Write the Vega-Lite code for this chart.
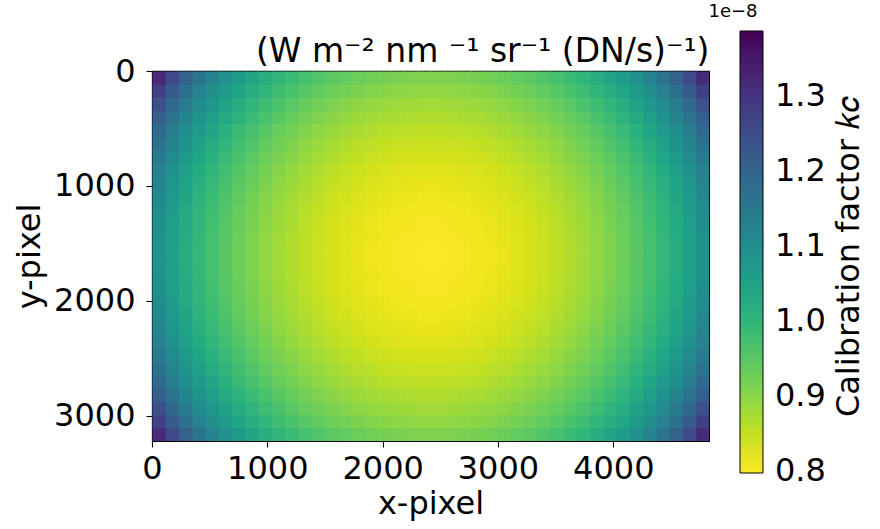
{
"$schema": "https://vega.github.io/schema/vega-lite/v6.json",
"width": 557, "height": 370,
"autosize": {"type": "none"},
"padding": {"left": 152, "top": 71, "right": 171, "bottom": 88},
"background": "white",
"config": {
  "font": "DejaVu Sans",
  "view": {"stroke": "black", "strokeWidth": 1.1},
  "axis": {"labelFontSize": 32, "titleFontSize": 32, "labelFont": "DejaVu Sans", "titleFont": "DejaVu Sans", "titleFontWeight": "normal", "labelColor": "black", "titleColor": "black", "tickColor": "black", "tickSize": 6, "tickWidth": 1.1, "grid": false, "domain": false, "labelFlush": false}
},
"resolve": {"axis": {"x": "independent", "y": "independent"}},
"layer": [
{
"data": {"values": [
{"x":0,"y":0,"k":1.318},{"x":115,"y":0,"k":1.256},{"x":230,"y":0,"k":1.204},{"x":345,"y":0,"k":1.161},{"x":460,"y":0,"k":1.123},{"x":575,"y":0,"k":1.091},{"x":690,"y":0,"k":1.064},{"x":805,"y":0,"k":1.040},{"x":920,"y":0,"k":1.018},{"x":1035,"y":0,"k":1.000},{"x":1150,"y":0,"k":0.984},{"x":1265,"y":0,"k":0.970},{"x":1380,"y":0,"k":0.958},{"x":1495,"y":0,"k":0.947},{"x":1610,"y":0,"k":0.938},{"x":1725,"y":0,"k":0.930},{"x":1840,"y":0,"k":0.923},{"x":1955,"y":0,"k":0.918},{"x":2070,"y":0,"k":0.915},{"x":2185,"y":0,"k":0.912},{"x":2300,"y":0,"k":0.911},{"x":2415,"y":0,"k":0.911},{"x":2530,"y":0,"k":0.912},{"x":2645,"y":0,"k":0.915},{"x":2760,"y":0,"k":0.918},{"x":2875,"y":0,"k":0.923},{"x":2990,"y":0,"k":0.930},{"x":3105,"y":0,"k":0.938},{"x":3220,"y":0,"k":0.947},{"x":3335,"y":0,"k":0.958},{"x":3450,"y":0,"k":0.970},{"x":3565,"y":0,"k":0.984},{"x":3680,"y":0,"k":1.000},{"x":3795,"y":0,"k":1.018},{"x":3910,"y":0,"k":1.040},{"x":4025,"y":0,"k":1.064},{"x":4140,"y":0,"k":1.091},{"x":4255,"y":0,"k":1.123},{"x":4370,"y":0,"k":1.161},{"x":4485,"y":0,"k":1.204},{"x":4600,"y":0,"k":1.256},{"x":4715,"y":0,"k":1.318},
{"x":0,"y":115,"k":1.277},{"x":115,"y":115,"k":1.220},{"x":230,"y":115,"k":1.173},{"x":345,"y":115,"k":1.132},{"x":460,"y":115,"k":1.097},{"x":575,"y":115,"k":1.067},{"x":690,"y":115,"k":1.041},{"x":805,"y":115,"k":1.018},{"x":920,"y":115,"k":0.999},{"x":1035,"y":115,"k":0.982},{"x":1150,"y":115,"k":0.966},{"x":1265,"y":115,"k":0.952},{"x":1380,"y":115,"k":0.941},{"x":1495,"y":115,"k":0.930},{"x":1610,"y":115,"k":0.921},{"x":1725,"y":115,"k":0.914},{"x":1840,"y":115,"k":0.907},{"x":1955,"y":115,"k":0.902},{"x":2070,"y":115,"k":0.898},{"x":2185,"y":115,"k":0.896},{"x":2300,"y":115,"k":0.895},{"x":2415,"y":115,"k":0.895},{"x":2530,"y":115,"k":0.896},{"x":2645,"y":115,"k":0.898},{"x":2760,"y":115,"k":0.902},{"x":2875,"y":115,"k":0.907},{"x":2990,"y":115,"k":0.914},{"x":3105,"y":115,"k":0.921},{"x":3220,"y":115,"k":0.930},{"x":3335,"y":115,"k":0.941},{"x":3450,"y":115,"k":0.952},{"x":3565,"y":115,"k":0.966},{"x":3680,"y":115,"k":0.982},{"x":3795,"y":115,"k":0.999},{"x":3910,"y":115,"k":1.018},{"x":4025,"y":115,"k":1.041},{"x":4140,"y":115,"k":1.067},{"x":4255,"y":115,"k":1.097},{"x":4370,"y":115,"k":1.132},{"x":4485,"y":115,"k":1.173},{"x":4600,"y":115,"k":1.220},{"x":4715,"y":115,"k":1.277},
{"x":0,"y":230,"k":1.242},{"x":115,"y":230,"k":1.190},{"x":230,"y":230,"k":1.145},{"x":345,"y":230,"k":1.107},{"x":460,"y":230,"k":1.075},{"x":575,"y":230,"k":1.047},{"x":690,"y":230,"k":1.022},{"x":805,"y":230,"k":1.000},{"x":920,"y":230,"k":0.982},{"x":1035,"y":230,"k":0.965},{"x":1150,"y":230,"k":0.949},{"x":1265,"y":230,"k":0.936},{"x":1380,"y":230,"k":0.925},{"x":1495,"y":230,"k":0.915},{"x":1610,"y":230,"k":0.906},{"x":1725,"y":230,"k":0.898},{"x":1840,"y":230,"k":0.892},{"x":1955,"y":230,"k":0.887},{"x":2070,"y":230,"k":0.884},{"x":2185,"y":230,"k":0.881},{"x":2300,"y":230,"k":0.880},{"x":2415,"y":230,"k":0.880},{"x":2530,"y":230,"k":0.881},{"x":2645,"y":230,"k":0.884},{"x":2760,"y":230,"k":0.887},{"x":2875,"y":230,"k":0.892},{"x":2990,"y":230,"k":0.898},{"x":3105,"y":230,"k":0.906},{"x":3220,"y":230,"k":0.915},{"x":3335,"y":230,"k":0.925},{"x":3450,"y":230,"k":0.936},{"x":3565,"y":230,"k":0.949},{"x":3680,"y":230,"k":0.965},{"x":3795,"y":230,"k":0.982},{"x":3910,"y":230,"k":1.000},{"x":4025,"y":230,"k":1.022},{"x":4140,"y":230,"k":1.047},{"x":4255,"y":230,"k":1.075},{"x":4370,"y":230,"k":1.107},{"x":4485,"y":230,"k":1.145},{"x":4600,"y":230,"k":1.190},{"x":4715,"y":230,"k":1.242},
{"x":0,"y":345,"k":1.212},{"x":115,"y":345,"k":1.163},{"x":230,"y":345,"k":1.121},{"x":345,"y":345,"k":1.086},{"x":460,"y":345,"k":1.055},{"x":575,"y":345,"k":1.028},{"x":690,"y":345,"k":1.005},{"x":805,"y":345,"k":0.984},{"x":920,"y":345,"k":0.966},{"x":1035,"y":345,"k":0.949},{"x":1150,"y":345,"k":0.935},{"x":1265,"y":345,"k":0.922},{"x":1380,"y":345,"k":0.911},{"x":1495,"y":345,"k":0.901},{"x":1610,"y":345,"k":0.892},{"x":1725,"y":345,"k":0.885},{"x":1840,"y":345,"k":0.879},{"x":1955,"y":345,"k":0.874},{"x":2070,"y":345,"k":0.871},{"x":2185,"y":345,"k":0.868},{"x":2300,"y":345,"k":0.867},{"x":2415,"y":345,"k":0.867},{"x":2530,"y":345,"k":0.868},{"x":2645,"y":345,"k":0.871},{"x":2760,"y":345,"k":0.874},{"x":2875,"y":345,"k":0.879},{"x":2990,"y":345,"k":0.885},{"x":3105,"y":345,"k":0.892},{"x":3220,"y":345,"k":0.901},{"x":3335,"y":345,"k":0.911},{"x":3450,"y":345,"k":0.922},{"x":3565,"y":345,"k":0.935},{"x":3680,"y":345,"k":0.949},{"x":3795,"y":345,"k":0.966},{"x":3910,"y":345,"k":0.984},{"x":4025,"y":345,"k":1.005},{"x":4140,"y":345,"k":1.028},{"x":4255,"y":345,"k":1.055},{"x":4370,"y":345,"k":1.086},{"x":4485,"y":345,"k":1.121},{"x":4600,"y":345,"k":1.163},{"x":4715,"y":345,"k":1.212},
{"x":0,"y":460,"k":1.187},{"x":115,"y":460,"k":1.140},{"x":230,"y":460,"k":1.101},{"x":345,"y":460,"k":1.067},{"x":460,"y":460,"k":1.038},{"x":575,"y":460,"k":1.012},{"x":690,"y":460,"k":0.990},{"x":805,"y":460,"k":0.970},{"x":920,"y":460,"k":0.952},{"x":1035,"y":460,"k":0.936},{"x":1150,"y":460,"k":0.922},{"x":1265,"y":460,"k":0.910},{"x":1380,"y":460,"k":0.898},{"x":1495,"y":460,"k":0.889},{"x":1610,"y":460,"k":0.880},{"x":1725,"y":460,"k":0.873},{"x":1840,"y":460,"k":0.867},{"x":1955,"y":460,"k":0.862},{"x":2070,"y":460,"k":0.858},{"x":2185,"y":460,"k":0.856},{"x":2300,"y":460,"k":0.854},{"x":2415,"y":460,"k":0.854},{"x":2530,"y":460,"k":0.856},{"x":2645,"y":460,"k":0.858},{"x":2760,"y":460,"k":0.862},{"x":2875,"y":460,"k":0.867},{"x":2990,"y":460,"k":0.873},{"x":3105,"y":460,"k":0.880},{"x":3220,"y":460,"k":0.889},{"x":3335,"y":460,"k":0.898},{"x":3450,"y":460,"k":0.910},{"x":3565,"y":460,"k":0.922},{"x":3680,"y":460,"k":0.936},{"x":3795,"y":460,"k":0.952},{"x":3910,"y":460,"k":0.970},{"x":4025,"y":460,"k":0.990},{"x":4140,"y":460,"k":1.012},{"x":4255,"y":460,"k":1.038},{"x":4370,"y":460,"k":1.067},{"x":4485,"y":460,"k":1.101},{"x":4600,"y":460,"k":1.140},{"x":4715,"y":460,"k":1.187},
{"x":0,"y":575,"k":1.165},{"x":115,"y":575,"k":1.121},{"x":230,"y":575,"k":1.084},{"x":345,"y":575,"k":1.051},{"x":460,"y":575,"k":1.023},{"x":575,"y":575,"k":0.999},{"x":690,"y":575,"k":0.977},{"x":805,"y":575,"k":0.958},{"x":920,"y":575,"k":0.940},{"x":1035,"y":575,"k":0.925},{"x":1150,"y":575,"k":0.911},{"x":1265,"y":575,"k":0.898},{"x":1380,"y":575,"k":0.887},{"x":1495,"y":575,"k":0.878},{"x":1610,"y":575,"k":0.869},{"x":1725,"y":575,"k":0.862},{"x":1840,"y":575,"k":0.856},{"x":1955,"y":575,"k":0.851},{"x":2070,"y":575,"k":0.847},{"x":2185,"y":575,"k":0.845},{"x":2300,"y":575,"k":0.844},{"x":2415,"y":575,"k":0.844},{"x":2530,"y":575,"k":0.845},{"x":2645,"y":575,"k":0.847},{"x":2760,"y":575,"k":0.851},{"x":2875,"y":575,"k":0.856},{"x":2990,"y":575,"k":0.862},{"x":3105,"y":575,"k":0.869},{"x":3220,"y":575,"k":0.878},{"x":3335,"y":575,"k":0.887},{"x":3450,"y":575,"k":0.898},{"x":3565,"y":575,"k":0.911},{"x":3680,"y":575,"k":0.925},{"x":3795,"y":575,"k":0.940},{"x":3910,"y":575,"k":0.958},{"x":4025,"y":575,"k":0.977},{"x":4140,"y":575,"k":0.999},{"x":4255,"y":575,"k":1.023},{"x":4370,"y":575,"k":1.051},{"x":4485,"y":575,"k":1.084},{"x":4600,"y":575,"k":1.121},{"x":4715,"y":575,"k":1.165},
{"x":0,"y":690,"k":1.147},{"x":115,"y":690,"k":1.105},{"x":230,"y":690,"k":1.069},{"x":345,"y":690,"k":1.038},{"x":460,"y":690,"k":1.011},{"x":575,"y":690,"k":0.987},{"x":690,"y":690,"k":0.966},{"x":805,"y":690,"k":0.947},{"x":920,"y":690,"k":0.930},{"x":1035,"y":690,"k":0.915},{"x":1150,"y":690,"k":0.901},{"x":1265,"y":690,"k":0.889},{"x":1380,"y":690,"k":0.878},{"x":1495,"y":690,"k":0.868},{"x":1610,"y":690,"k":0.859},{"x":1725,"y":690,"k":0.852},{"x":1840,"y":690,"k":0.846},{"x":1955,"y":690,"k":0.841},{"x":2070,"y":690,"k":0.838},{"x":2185,"y":690,"k":0.835},{"x":2300,"y":690,"k":0.834},{"x":2415,"y":690,"k":0.834},{"x":2530,"y":690,"k":0.835},{"x":2645,"y":690,"k":0.838},{"x":2760,"y":690,"k":0.841},{"x":2875,"y":690,"k":0.846},{"x":2990,"y":690,"k":0.852},{"x":3105,"y":690,"k":0.859},{"x":3220,"y":690,"k":0.868},{"x":3335,"y":690,"k":0.878},{"x":3450,"y":690,"k":0.889},{"x":3565,"y":690,"k":0.901},{"x":3680,"y":690,"k":0.915},{"x":3795,"y":690,"k":0.930},{"x":3910,"y":690,"k":0.947},{"x":4025,"y":690,"k":0.966},{"x":4140,"y":690,"k":0.987},{"x":4255,"y":690,"k":1.011},{"x":4370,"y":690,"k":1.038},{"x":4485,"y":690,"k":1.069},{"x":4600,"y":690,"k":1.105},{"x":4715,"y":690,"k":1.147},
{"x":0,"y":805,"k":1.132},{"x":115,"y":805,"k":1.091},{"x":230,"y":805,"k":1.057},{"x":345,"y":805,"k":1.026},{"x":460,"y":805,"k":1.000},{"x":575,"y":805,"k":0.977},{"x":690,"y":805,"k":0.956},{"x":805,"y":805,"k":0.938},{"x":920,"y":805,"k":0.921},{"x":1035,"y":805,"k":0.906},{"x":1150,"y":805,"k":0.892},{"x":1265,"y":805,"k":0.880},{"x":1380,"y":805,"k":0.869},{"x":1495,"y":805,"k":0.859},{"x":1610,"y":805,"k":0.851},{"x":1725,"y":805,"k":0.844},{"x":1840,"y":805,"k":0.838},{"x":1955,"y":805,"k":0.833},{"x":2070,"y":805,"k":0.829},{"x":2185,"y":805,"k":0.827},{"x":2300,"y":805,"k":0.826},{"x":2415,"y":805,"k":0.826},{"x":2530,"y":805,"k":0.827},{"x":2645,"y":805,"k":0.829},{"x":2760,"y":805,"k":0.833},{"x":2875,"y":805,"k":0.838},{"x":2990,"y":805,"k":0.844},{"x":3105,"y":805,"k":0.851},{"x":3220,"y":805,"k":0.859},{"x":3335,"y":805,"k":0.869},{"x":3450,"y":805,"k":0.880},{"x":3565,"y":805,"k":0.892},{"x":3680,"y":805,"k":0.906},{"x":3795,"y":805,"k":0.921},{"x":3910,"y":805,"k":0.938},{"x":4025,"y":805,"k":0.956},{"x":4140,"y":805,"k":0.977},{"x":4255,"y":805,"k":1.000},{"x":4370,"y":805,"k":1.026},{"x":4485,"y":805,"k":1.057},{"x":4600,"y":805,"k":1.091},{"x":4715,"y":805,"k":1.132},
{"x":0,"y":920,"k":1.119},{"x":115,"y":920,"k":1.080},{"x":230,"y":920,"k":1.047},{"x":345,"y":920,"k":1.017},{"x":460,"y":920,"k":0.991},{"x":575,"y":920,"k":0.969},{"x":690,"y":920,"k":0.948},{"x":805,"y":920,"k":0.930},{"x":920,"y":920,"k":0.914},{"x":1035,"y":920,"k":0.898},{"x":1150,"y":920,"k":0.885},{"x":1265,"y":920,"k":0.873},{"x":1380,"y":920,"k":0.862},{"x":1495,"y":920,"k":0.852},{"x":1610,"y":920,"k":0.844},{"x":1725,"y":920,"k":0.836},{"x":1840,"y":920,"k":0.830},{"x":1955,"y":920,"k":0.826},{"x":2070,"y":920,"k":0.822},{"x":2185,"y":920,"k":0.820},{"x":2300,"y":920,"k":0.818},{"x":2415,"y":920,"k":0.818},{"x":2530,"y":920,"k":0.820},{"x":2645,"y":920,"k":0.822},{"x":2760,"y":920,"k":0.826},{"x":2875,"y":920,"k":0.830},{"x":2990,"y":920,"k":0.836},{"x":3105,"y":920,"k":0.844},{"x":3220,"y":920,"k":0.852},{"x":3335,"y":920,"k":0.862},{"x":3450,"y":920,"k":0.873},{"x":3565,"y":920,"k":0.885},{"x":3680,"y":920,"k":0.898},{"x":3795,"y":920,"k":0.914},{"x":3910,"y":920,"k":0.930},{"x":4025,"y":920,"k":0.948},{"x":4140,"y":920,"k":0.969},{"x":4255,"y":920,"k":0.991},{"x":4370,"y":920,"k":1.017},{"x":4485,"y":920,"k":1.047},{"x":4600,"y":920,"k":1.080},{"x":4715,"y":920,"k":1.119},
{"x":0,"y":1035,"k":1.109},{"x":115,"y":1035,"k":1.071},{"x":230,"y":1035,"k":1.038},{"x":345,"y":1035,"k":1.009},{"x":460,"y":1035,"k":0.984},{"x":575,"y":1035,"k":0.962},{"x":690,"y":1035,"k":0.942},{"x":805,"y":1035,"k":0.923},{"x":920,"y":1035,"k":0.907},{"x":1035,"y":1035,"k":0.892},{"x":1150,"y":1035,"k":0.879},{"x":1265,"y":1035,"k":0.867},{"x":1380,"y":1035,"k":0.856},{"x":1495,"y":1035,"k":0.846},{"x":1610,"y":1035,"k":0.838},{"x":1725,"y":1035,"k":0.830},{"x":1840,"y":1035,"k":0.824},{"x":1955,"y":1035,"k":0.820},{"x":2070,"y":1035,"k":0.816},{"x":2185,"y":1035,"k":0.814},{"x":2300,"y":1035,"k":0.812},{"x":2415,"y":1035,"k":0.812},{"x":2530,"y":1035,"k":0.814},{"x":2645,"y":1035,"k":0.816},{"x":2760,"y":1035,"k":0.820},{"x":2875,"y":1035,"k":0.824},{"x":2990,"y":1035,"k":0.830},{"x":3105,"y":1035,"k":0.838},{"x":3220,"y":1035,"k":0.846},{"x":3335,"y":1035,"k":0.856},{"x":3450,"y":1035,"k":0.867},{"x":3565,"y":1035,"k":0.879},{"x":3680,"y":1035,"k":0.892},{"x":3795,"y":1035,"k":0.907},{"x":3910,"y":1035,"k":0.923},{"x":4025,"y":1035,"k":0.942},{"x":4140,"y":1035,"k":0.962},{"x":4255,"y":1035,"k":0.984},{"x":4370,"y":1035,"k":1.009},{"x":4485,"y":1035,"k":1.038},{"x":4600,"y":1035,"k":1.071},{"x":4715,"y":1035,"k":1.109},
{"x":0,"y":1150,"k":1.101},{"x":115,"y":1150,"k":1.064},{"x":230,"y":1150,"k":1.031},{"x":345,"y":1150,"k":1.003},{"x":460,"y":1150,"k":0.979},{"x":575,"y":1150,"k":0.956},{"x":690,"y":1150,"k":0.936},{"x":805,"y":1150,"k":0.918},{"x":920,"y":1150,"k":0.902},{"x":1035,"y":1150,"k":0.887},{"x":1150,"y":1150,"k":0.874},{"x":1265,"y":1150,"k":0.862},{"x":1380,"y":1150,"k":0.851},{"x":1495,"y":1150,"k":0.841},{"x":1610,"y":1150,"k":0.833},{"x":1725,"y":1150,"k":0.826},{"x":1840,"y":1150,"k":0.820},{"x":1955,"y":1150,"k":0.815},{"x":2070,"y":1150,"k":0.811},{"x":2185,"y":1150,"k":0.809},{"x":2300,"y":1150,"k":0.808},{"x":2415,"y":1150,"k":0.808},{"x":2530,"y":1150,"k":0.809},{"x":2645,"y":1150,"k":0.811},{"x":2760,"y":1150,"k":0.815},{"x":2875,"y":1150,"k":0.820},{"x":2990,"y":1150,"k":0.826},{"x":3105,"y":1150,"k":0.833},{"x":3220,"y":1150,"k":0.841},{"x":3335,"y":1150,"k":0.851},{"x":3450,"y":1150,"k":0.862},{"x":3565,"y":1150,"k":0.874},{"x":3680,"y":1150,"k":0.887},{"x":3795,"y":1150,"k":0.902},{"x":3910,"y":1150,"k":0.918},{"x":4025,"y":1150,"k":0.936},{"x":4140,"y":1150,"k":0.956},{"x":4255,"y":1150,"k":0.979},{"x":4370,"y":1150,"k":1.003},{"x":4485,"y":1150,"k":1.031},{"x":4600,"y":1150,"k":1.064},{"x":4715,"y":1150,"k":1.101},
{"x":0,"y":1265,"k":1.095},{"x":115,"y":1265,"k":1.058},{"x":230,"y":1265,"k":1.026},{"x":345,"y":1265,"k":0.999},{"x":460,"y":1265,"k":0.975},{"x":575,"y":1265,"k":0.952},{"x":690,"y":1265,"k":0.933},{"x":805,"y":1265,"k":0.915},{"x":920,"y":1265,"k":0.898},{"x":1035,"y":1265,"k":0.884},{"x":1150,"y":1265,"k":0.871},{"x":1265,"y":1265,"k":0.858},{"x":1380,"y":1265,"k":0.847},{"x":1495,"y":1265,"k":0.838},{"x":1610,"y":1265,"k":0.829},{"x":1725,"y":1265,"k":0.822},{"x":1840,"y":1265,"k":0.816},{"x":1955,"y":1265,"k":0.811},{"x":2070,"y":1265,"k":0.808},{"x":2185,"y":1265,"k":0.805},{"x":2300,"y":1265,"k":0.804},{"x":2415,"y":1265,"k":0.804},{"x":2530,"y":1265,"k":0.805},{"x":2645,"y":1265,"k":0.808},{"x":2760,"y":1265,"k":0.811},{"x":2875,"y":1265,"k":0.816},{"x":2990,"y":1265,"k":0.822},{"x":3105,"y":1265,"k":0.829},{"x":3220,"y":1265,"k":0.838},{"x":3335,"y":1265,"k":0.847},{"x":3450,"y":1265,"k":0.858},{"x":3565,"y":1265,"k":0.871},{"x":3680,"y":1265,"k":0.884},{"x":3795,"y":1265,"k":0.898},{"x":3910,"y":1265,"k":0.915},{"x":4025,"y":1265,"k":0.933},{"x":4140,"y":1265,"k":0.952},{"x":4255,"y":1265,"k":0.975},{"x":4370,"y":1265,"k":0.999},{"x":4485,"y":1265,"k":1.026},{"x":4600,"y":1265,"k":1.058},{"x":4715,"y":1265,"k":1.095},
{"x":0,"y":1380,"k":1.091},{"x":115,"y":1380,"k":1.055},{"x":230,"y":1380,"k":1.024},{"x":345,"y":1380,"k":0.996},{"x":460,"y":1380,"k":0.971},{"x":575,"y":1380,"k":0.950},{"x":690,"y":1380,"k":0.930},{"x":805,"y":1380,"k":0.912},{"x":920,"y":1380,"k":0.896},{"x":1035,"y":1380,"k":0.881},{"x":1150,"y":1380,"k":0.868},{"x":1265,"y":1380,"k":0.856},{"x":1380,"y":1380,"k":0.845},{"x":1495,"y":1380,"k":0.835},{"x":1610,"y":1380,"k":0.827},{"x":1725,"y":1380,"k":0.820},{"x":1840,"y":1380,"k":0.814},{"x":1955,"y":1380,"k":0.809},{"x":2070,"y":1380,"k":0.805},{"x":2185,"y":1380,"k":0.803},{"x":2300,"y":1380,"k":0.802},{"x":2415,"y":1380,"k":0.802},{"x":2530,"y":1380,"k":0.803},{"x":2645,"y":1380,"k":0.805},{"x":2760,"y":1380,"k":0.809},{"x":2875,"y":1380,"k":0.814},{"x":2990,"y":1380,"k":0.820},{"x":3105,"y":1380,"k":0.827},{"x":3220,"y":1380,"k":0.835},{"x":3335,"y":1380,"k":0.845},{"x":3450,"y":1380,"k":0.856},{"x":3565,"y":1380,"k":0.868},{"x":3680,"y":1380,"k":0.881},{"x":3795,"y":1380,"k":0.896},{"x":3910,"y":1380,"k":0.912},{"x":4025,"y":1380,"k":0.930},{"x":4140,"y":1380,"k":0.950},{"x":4255,"y":1380,"k":0.971},{"x":4370,"y":1380,"k":0.996},{"x":4485,"y":1380,"k":1.024},{"x":4600,"y":1380,"k":1.055},{"x":4715,"y":1380,"k":1.091},
{"x":0,"y":1495,"k":1.090},{"x":115,"y":1495,"k":1.053},{"x":230,"y":1495,"k":1.022},{"x":345,"y":1495,"k":0.994},{"x":460,"y":1495,"k":0.970},{"x":575,"y":1495,"k":0.948},{"x":690,"y":1495,"k":0.929},{"x":805,"y":1495,"k":0.911},{"x":920,"y":1495,"k":0.895},{"x":1035,"y":1495,"k":0.880},{"x":1150,"y":1495,"k":0.867},{"x":1265,"y":1495,"k":0.854},{"x":1380,"y":1495,"k":0.844},{"x":1495,"y":1495,"k":0.834},{"x":1610,"y":1495,"k":0.826},{"x":1725,"y":1495,"k":0.818},{"x":1840,"y":1495,"k":0.812},{"x":1955,"y":1495,"k":0.808},{"x":2070,"y":1495,"k":0.804},{"x":2185,"y":1495,"k":0.802},{"x":2300,"y":1495,"k":0.800},{"x":2415,"y":1495,"k":0.800},{"x":2530,"y":1495,"k":0.802},{"x":2645,"y":1495,"k":0.804},{"x":2760,"y":1495,"k":0.808},{"x":2875,"y":1495,"k":0.812},{"x":2990,"y":1495,"k":0.818},{"x":3105,"y":1495,"k":0.826},{"x":3220,"y":1495,"k":0.834},{"x":3335,"y":1495,"k":0.844},{"x":3450,"y":1495,"k":0.854},{"x":3565,"y":1495,"k":0.867},{"x":3680,"y":1495,"k":0.880},{"x":3795,"y":1495,"k":0.895},{"x":3910,"y":1495,"k":0.911},{"x":4025,"y":1495,"k":0.929},{"x":4140,"y":1495,"k":0.948},{"x":4255,"y":1495,"k":0.970},{"x":4370,"y":1495,"k":0.994},{"x":4485,"y":1495,"k":1.022},{"x":4600,"y":1495,"k":1.053},{"x":4715,"y":1495,"k":1.090},
{"x":0,"y":1610,"k":1.090},{"x":115,"y":1610,"k":1.053},{"x":230,"y":1610,"k":1.022},{"x":345,"y":1610,"k":0.994},{"x":460,"y":1610,"k":0.970},{"x":575,"y":1610,"k":0.948},{"x":690,"y":1610,"k":0.929},{"x":805,"y":1610,"k":0.911},{"x":920,"y":1610,"k":0.895},{"x":1035,"y":1610,"k":0.880},{"x":1150,"y":1610,"k":0.867},{"x":1265,"y":1610,"k":0.854},{"x":1380,"y":1610,"k":0.844},{"x":1495,"y":1610,"k":0.834},{"x":1610,"y":1610,"k":0.826},{"x":1725,"y":1610,"k":0.818},{"x":1840,"y":1610,"k":0.812},{"x":1955,"y":1610,"k":0.808},{"x":2070,"y":1610,"k":0.804},{"x":2185,"y":1610,"k":0.802},{"x":2300,"y":1610,"k":0.800},{"x":2415,"y":1610,"k":0.800},{"x":2530,"y":1610,"k":0.802},{"x":2645,"y":1610,"k":0.804},{"x":2760,"y":1610,"k":0.808},{"x":2875,"y":1610,"k":0.812},{"x":2990,"y":1610,"k":0.818},{"x":3105,"y":1610,"k":0.826},{"x":3220,"y":1610,"k":0.834},{"x":3335,"y":1610,"k":0.844},{"x":3450,"y":1610,"k":0.854},{"x":3565,"y":1610,"k":0.867},{"x":3680,"y":1610,"k":0.880},{"x":3795,"y":1610,"k":0.895},{"x":3910,"y":1610,"k":0.911},{"x":4025,"y":1610,"k":0.929},{"x":4140,"y":1610,"k":0.948},{"x":4255,"y":1610,"k":0.970},{"x":4370,"y":1610,"k":0.994},{"x":4485,"y":1610,"k":1.022},{"x":4600,"y":1610,"k":1.053},{"x":4715,"y":1610,"k":1.090},
{"x":0,"y":1725,"k":1.091},{"x":115,"y":1725,"k":1.055},{"x":230,"y":1725,"k":1.024},{"x":345,"y":1725,"k":0.996},{"x":460,"y":1725,"k":0.971},{"x":575,"y":1725,"k":0.950},{"x":690,"y":1725,"k":0.930},{"x":805,"y":1725,"k":0.912},{"x":920,"y":1725,"k":0.896},{"x":1035,"y":1725,"k":0.881},{"x":1150,"y":1725,"k":0.868},{"x":1265,"y":1725,"k":0.856},{"x":1380,"y":1725,"k":0.845},{"x":1495,"y":1725,"k":0.835},{"x":1610,"y":1725,"k":0.827},{"x":1725,"y":1725,"k":0.820},{"x":1840,"y":1725,"k":0.814},{"x":1955,"y":1725,"k":0.809},{"x":2070,"y":1725,"k":0.805},{"x":2185,"y":1725,"k":0.803},{"x":2300,"y":1725,"k":0.802},{"x":2415,"y":1725,"k":0.802},{"x":2530,"y":1725,"k":0.803},{"x":2645,"y":1725,"k":0.805},{"x":2760,"y":1725,"k":0.809},{"x":2875,"y":1725,"k":0.814},{"x":2990,"y":1725,"k":0.820},{"x":3105,"y":1725,"k":0.827},{"x":3220,"y":1725,"k":0.835},{"x":3335,"y":1725,"k":0.845},{"x":3450,"y":1725,"k":0.856},{"x":3565,"y":1725,"k":0.868},{"x":3680,"y":1725,"k":0.881},{"x":3795,"y":1725,"k":0.896},{"x":3910,"y":1725,"k":0.912},{"x":4025,"y":1725,"k":0.930},{"x":4140,"y":1725,"k":0.950},{"x":4255,"y":1725,"k":0.971},{"x":4370,"y":1725,"k":0.996},{"x":4485,"y":1725,"k":1.024},{"x":4600,"y":1725,"k":1.055},{"x":4715,"y":1725,"k":1.091},
{"x":0,"y":1840,"k":1.095},{"x":115,"y":1840,"k":1.058},{"x":230,"y":1840,"k":1.026},{"x":345,"y":1840,"k":0.999},{"x":460,"y":1840,"k":0.975},{"x":575,"y":1840,"k":0.952},{"x":690,"y":1840,"k":0.933},{"x":805,"y":1840,"k":0.915},{"x":920,"y":1840,"k":0.898},{"x":1035,"y":1840,"k":0.884},{"x":1150,"y":1840,"k":0.871},{"x":1265,"y":1840,"k":0.858},{"x":1380,"y":1840,"k":0.847},{"x":1495,"y":1840,"k":0.838},{"x":1610,"y":1840,"k":0.829},{"x":1725,"y":1840,"k":0.822},{"x":1840,"y":1840,"k":0.816},{"x":1955,"y":1840,"k":0.811},{"x":2070,"y":1840,"k":0.808},{"x":2185,"y":1840,"k":0.805},{"x":2300,"y":1840,"k":0.804},{"x":2415,"y":1840,"k":0.804},{"x":2530,"y":1840,"k":0.805},{"x":2645,"y":1840,"k":0.808},{"x":2760,"y":1840,"k":0.811},{"x":2875,"y":1840,"k":0.816},{"x":2990,"y":1840,"k":0.822},{"x":3105,"y":1840,"k":0.829},{"x":3220,"y":1840,"k":0.838},{"x":3335,"y":1840,"k":0.847},{"x":3450,"y":1840,"k":0.858},{"x":3565,"y":1840,"k":0.871},{"x":3680,"y":1840,"k":0.884},{"x":3795,"y":1840,"k":0.898},{"x":3910,"y":1840,"k":0.915},{"x":4025,"y":1840,"k":0.933},{"x":4140,"y":1840,"k":0.952},{"x":4255,"y":1840,"k":0.975},{"x":4370,"y":1840,"k":0.999},{"x":4485,"y":1840,"k":1.026},{"x":4600,"y":1840,"k":1.058},{"x":4715,"y":1840,"k":1.095},
{"x":0,"y":1955,"k":1.101},{"x":115,"y":1955,"k":1.064},{"x":230,"y":1955,"k":1.031},{"x":345,"y":1955,"k":1.003},{"x":460,"y":1955,"k":0.979},{"x":575,"y":1955,"k":0.956},{"x":690,"y":1955,"k":0.936},{"x":805,"y":1955,"k":0.918},{"x":920,"y":1955,"k":0.902},{"x":1035,"y":1955,"k":0.887},{"x":1150,"y":1955,"k":0.874},{"x":1265,"y":1955,"k":0.862},{"x":1380,"y":1955,"k":0.851},{"x":1495,"y":1955,"k":0.841},{"x":1610,"y":1955,"k":0.833},{"x":1725,"y":1955,"k":0.826},{"x":1840,"y":1955,"k":0.820},{"x":1955,"y":1955,"k":0.815},{"x":2070,"y":1955,"k":0.811},{"x":2185,"y":1955,"k":0.809},{"x":2300,"y":1955,"k":0.808},{"x":2415,"y":1955,"k":0.808},{"x":2530,"y":1955,"k":0.809},{"x":2645,"y":1955,"k":0.811},{"x":2760,"y":1955,"k":0.815},{"x":2875,"y":1955,"k":0.820},{"x":2990,"y":1955,"k":0.826},{"x":3105,"y":1955,"k":0.833},{"x":3220,"y":1955,"k":0.841},{"x":3335,"y":1955,"k":0.851},{"x":3450,"y":1955,"k":0.862},{"x":3565,"y":1955,"k":0.874},{"x":3680,"y":1955,"k":0.887},{"x":3795,"y":1955,"k":0.902},{"x":3910,"y":1955,"k":0.918},{"x":4025,"y":1955,"k":0.936},{"x":4140,"y":1955,"k":0.956},{"x":4255,"y":1955,"k":0.979},{"x":4370,"y":1955,"k":1.003},{"x":4485,"y":1955,"k":1.031},{"x":4600,"y":1955,"k":1.064},{"x":4715,"y":1955,"k":1.101},
{"x":0,"y":2070,"k":1.109},{"x":115,"y":2070,"k":1.071},{"x":230,"y":2070,"k":1.038},{"x":345,"y":2070,"k":1.009},{"x":460,"y":2070,"k":0.984},{"x":575,"y":2070,"k":0.962},{"x":690,"y":2070,"k":0.942},{"x":805,"y":2070,"k":0.923},{"x":920,"y":2070,"k":0.907},{"x":1035,"y":2070,"k":0.892},{"x":1150,"y":2070,"k":0.879},{"x":1265,"y":2070,"k":0.867},{"x":1380,"y":2070,"k":0.856},{"x":1495,"y":2070,"k":0.846},{"x":1610,"y":2070,"k":0.838},{"x":1725,"y":2070,"k":0.830},{"x":1840,"y":2070,"k":0.824},{"x":1955,"y":2070,"k":0.820},{"x":2070,"y":2070,"k":0.816},{"x":2185,"y":2070,"k":0.814},{"x":2300,"y":2070,"k":0.812},{"x":2415,"y":2070,"k":0.812},{"x":2530,"y":2070,"k":0.814},{"x":2645,"y":2070,"k":0.816},{"x":2760,"y":2070,"k":0.820},{"x":2875,"y":2070,"k":0.824},{"x":2990,"y":2070,"k":0.830},{"x":3105,"y":2070,"k":0.838},{"x":3220,"y":2070,"k":0.846},{"x":3335,"y":2070,"k":0.856},{"x":3450,"y":2070,"k":0.867},{"x":3565,"y":2070,"k":0.879},{"x":3680,"y":2070,"k":0.892},{"x":3795,"y":2070,"k":0.907},{"x":3910,"y":2070,"k":0.923},{"x":4025,"y":2070,"k":0.942},{"x":4140,"y":2070,"k":0.962},{"x":4255,"y":2070,"k":0.984},{"x":4370,"y":2070,"k":1.009},{"x":4485,"y":2070,"k":1.038},{"x":4600,"y":2070,"k":1.071},{"x":4715,"y":2070,"k":1.109},
{"x":0,"y":2185,"k":1.119},{"x":115,"y":2185,"k":1.080},{"x":230,"y":2185,"k":1.047},{"x":345,"y":2185,"k":1.017},{"x":460,"y":2185,"k":0.991},{"x":575,"y":2185,"k":0.969},{"x":690,"y":2185,"k":0.948},{"x":805,"y":2185,"k":0.930},{"x":920,"y":2185,"k":0.914},{"x":1035,"y":2185,"k":0.898},{"x":1150,"y":2185,"k":0.885},{"x":1265,"y":2185,"k":0.873},{"x":1380,"y":2185,"k":0.862},{"x":1495,"y":2185,"k":0.852},{"x":1610,"y":2185,"k":0.844},{"x":1725,"y":2185,"k":0.836},{"x":1840,"y":2185,"k":0.830},{"x":1955,"y":2185,"k":0.826},{"x":2070,"y":2185,"k":0.822},{"x":2185,"y":2185,"k":0.820},{"x":2300,"y":2185,"k":0.818},{"x":2415,"y":2185,"k":0.818},{"x":2530,"y":2185,"k":0.820},{"x":2645,"y":2185,"k":0.822},{"x":2760,"y":2185,"k":0.826},{"x":2875,"y":2185,"k":0.830},{"x":2990,"y":2185,"k":0.836},{"x":3105,"y":2185,"k":0.844},{"x":3220,"y":2185,"k":0.852},{"x":3335,"y":2185,"k":0.862},{"x":3450,"y":2185,"k":0.873},{"x":3565,"y":2185,"k":0.885},{"x":3680,"y":2185,"k":0.898},{"x":3795,"y":2185,"k":0.914},{"x":3910,"y":2185,"k":0.930},{"x":4025,"y":2185,"k":0.948},{"x":4140,"y":2185,"k":0.969},{"x":4255,"y":2185,"k":0.991},{"x":4370,"y":2185,"k":1.017},{"x":4485,"y":2185,"k":1.047},{"x":4600,"y":2185,"k":1.080},{"x":4715,"y":2185,"k":1.119},
{"x":0,"y":2300,"k":1.132},{"x":115,"y":2300,"k":1.091},{"x":230,"y":2300,"k":1.057},{"x":345,"y":2300,"k":1.026},{"x":460,"y":2300,"k":1.000},{"x":575,"y":2300,"k":0.977},{"x":690,"y":2300,"k":0.956},{"x":805,"y":2300,"k":0.938},{"x":920,"y":2300,"k":0.921},{"x":1035,"y":2300,"k":0.906},{"x":1150,"y":2300,"k":0.892},{"x":1265,"y":2300,"k":0.880},{"x":1380,"y":2300,"k":0.869},{"x":1495,"y":2300,"k":0.859},{"x":1610,"y":2300,"k":0.851},{"x":1725,"y":2300,"k":0.844},{"x":1840,"y":2300,"k":0.838},{"x":1955,"y":2300,"k":0.833},{"x":2070,"y":2300,"k":0.829},{"x":2185,"y":2300,"k":0.827},{"x":2300,"y":2300,"k":0.826},{"x":2415,"y":2300,"k":0.826},{"x":2530,"y":2300,"k":0.827},{"x":2645,"y":2300,"k":0.829},{"x":2760,"y":2300,"k":0.833},{"x":2875,"y":2300,"k":0.838},{"x":2990,"y":2300,"k":0.844},{"x":3105,"y":2300,"k":0.851},{"x":3220,"y":2300,"k":0.859},{"x":3335,"y":2300,"k":0.869},{"x":3450,"y":2300,"k":0.880},{"x":3565,"y":2300,"k":0.892},{"x":3680,"y":2300,"k":0.906},{"x":3795,"y":2300,"k":0.921},{"x":3910,"y":2300,"k":0.938},{"x":4025,"y":2300,"k":0.956},{"x":4140,"y":2300,"k":0.977},{"x":4255,"y":2300,"k":1.000},{"x":4370,"y":2300,"k":1.026},{"x":4485,"y":2300,"k":1.057},{"x":4600,"y":2300,"k":1.091},{"x":4715,"y":2300,"k":1.132},
{"x":0,"y":2415,"k":1.147},{"x":115,"y":2415,"k":1.105},{"x":230,"y":2415,"k":1.069},{"x":345,"y":2415,"k":1.038},{"x":460,"y":2415,"k":1.011},{"x":575,"y":2415,"k":0.987},{"x":690,"y":2415,"k":0.966},{"x":805,"y":2415,"k":0.947},{"x":920,"y":2415,"k":0.930},{"x":1035,"y":2415,"k":0.915},{"x":1150,"y":2415,"k":0.901},{"x":1265,"y":2415,"k":0.889},{"x":1380,"y":2415,"k":0.878},{"x":1495,"y":2415,"k":0.868},{"x":1610,"y":2415,"k":0.859},{"x":1725,"y":2415,"k":0.852},{"x":1840,"y":2415,"k":0.846},{"x":1955,"y":2415,"k":0.841},{"x":2070,"y":2415,"k":0.838},{"x":2185,"y":2415,"k":0.835},{"x":2300,"y":2415,"k":0.834},{"x":2415,"y":2415,"k":0.834},{"x":2530,"y":2415,"k":0.835},{"x":2645,"y":2415,"k":0.838},{"x":2760,"y":2415,"k":0.841},{"x":2875,"y":2415,"k":0.846},{"x":2990,"y":2415,"k":0.852},{"x":3105,"y":2415,"k":0.859},{"x":3220,"y":2415,"k":0.868},{"x":3335,"y":2415,"k":0.878},{"x":3450,"y":2415,"k":0.889},{"x":3565,"y":2415,"k":0.901},{"x":3680,"y":2415,"k":0.915},{"x":3795,"y":2415,"k":0.930},{"x":3910,"y":2415,"k":0.947},{"x":4025,"y":2415,"k":0.966},{"x":4140,"y":2415,"k":0.987},{"x":4255,"y":2415,"k":1.011},{"x":4370,"y":2415,"k":1.038},{"x":4485,"y":2415,"k":1.069},{"x":4600,"y":2415,"k":1.105},{"x":4715,"y":2415,"k":1.147},
{"x":0,"y":2530,"k":1.165},{"x":115,"y":2530,"k":1.121},{"x":230,"y":2530,"k":1.084},{"x":345,"y":2530,"k":1.051},{"x":460,"y":2530,"k":1.023},{"x":575,"y":2530,"k":0.999},{"x":690,"y":2530,"k":0.977},{"x":805,"y":2530,"k":0.958},{"x":920,"y":2530,"k":0.940},{"x":1035,"y":2530,"k":0.925},{"x":1150,"y":2530,"k":0.911},{"x":1265,"y":2530,"k":0.898},{"x":1380,"y":2530,"k":0.887},{"x":1495,"y":2530,"k":0.878},{"x":1610,"y":2530,"k":0.869},{"x":1725,"y":2530,"k":0.862},{"x":1840,"y":2530,"k":0.856},{"x":1955,"y":2530,"k":0.851},{"x":2070,"y":2530,"k":0.847},{"x":2185,"y":2530,"k":0.845},{"x":2300,"y":2530,"k":0.844},{"x":2415,"y":2530,"k":0.844},{"x":2530,"y":2530,"k":0.845},{"x":2645,"y":2530,"k":0.847},{"x":2760,"y":2530,"k":0.851},{"x":2875,"y":2530,"k":0.856},{"x":2990,"y":2530,"k":0.862},{"x":3105,"y":2530,"k":0.869},{"x":3220,"y":2530,"k":0.878},{"x":3335,"y":2530,"k":0.887},{"x":3450,"y":2530,"k":0.898},{"x":3565,"y":2530,"k":0.911},{"x":3680,"y":2530,"k":0.925},{"x":3795,"y":2530,"k":0.940},{"x":3910,"y":2530,"k":0.958},{"x":4025,"y":2530,"k":0.977},{"x":4140,"y":2530,"k":0.999},{"x":4255,"y":2530,"k":1.023},{"x":4370,"y":2530,"k":1.051},{"x":4485,"y":2530,"k":1.084},{"x":4600,"y":2530,"k":1.121},{"x":4715,"y":2530,"k":1.165},
{"x":0,"y":2645,"k":1.187},{"x":115,"y":2645,"k":1.140},{"x":230,"y":2645,"k":1.101},{"x":345,"y":2645,"k":1.067},{"x":460,"y":2645,"k":1.038},{"x":575,"y":2645,"k":1.012},{"x":690,"y":2645,"k":0.990},{"x":805,"y":2645,"k":0.970},{"x":920,"y":2645,"k":0.952},{"x":1035,"y":2645,"k":0.936},{"x":1150,"y":2645,"k":0.922},{"x":1265,"y":2645,"k":0.910},{"x":1380,"y":2645,"k":0.898},{"x":1495,"y":2645,"k":0.889},{"x":1610,"y":2645,"k":0.880},{"x":1725,"y":2645,"k":0.873},{"x":1840,"y":2645,"k":0.867},{"x":1955,"y":2645,"k":0.862},{"x":2070,"y":2645,"k":0.858},{"x":2185,"y":2645,"k":0.856},{"x":2300,"y":2645,"k":0.854},{"x":2415,"y":2645,"k":0.854},{"x":2530,"y":2645,"k":0.856},{"x":2645,"y":2645,"k":0.858},{"x":2760,"y":2645,"k":0.862},{"x":2875,"y":2645,"k":0.867},{"x":2990,"y":2645,"k":0.873},{"x":3105,"y":2645,"k":0.880},{"x":3220,"y":2645,"k":0.889},{"x":3335,"y":2645,"k":0.898},{"x":3450,"y":2645,"k":0.910},{"x":3565,"y":2645,"k":0.922},{"x":3680,"y":2645,"k":0.936},{"x":3795,"y":2645,"k":0.952},{"x":3910,"y":2645,"k":0.970},{"x":4025,"y":2645,"k":0.990},{"x":4140,"y":2645,"k":1.012},{"x":4255,"y":2645,"k":1.038},{"x":4370,"y":2645,"k":1.067},{"x":4485,"y":2645,"k":1.101},{"x":4600,"y":2645,"k":1.140},{"x":4715,"y":2645,"k":1.187},
{"x":0,"y":2760,"k":1.212},{"x":115,"y":2760,"k":1.163},{"x":230,"y":2760,"k":1.121},{"x":345,"y":2760,"k":1.086},{"x":460,"y":2760,"k":1.055},{"x":575,"y":2760,"k":1.028},{"x":690,"y":2760,"k":1.005},{"x":805,"y":2760,"k":0.984},{"x":920,"y":2760,"k":0.966},{"x":1035,"y":2760,"k":0.949},{"x":1150,"y":2760,"k":0.935},{"x":1265,"y":2760,"k":0.922},{"x":1380,"y":2760,"k":0.911},{"x":1495,"y":2760,"k":0.901},{"x":1610,"y":2760,"k":0.892},{"x":1725,"y":2760,"k":0.885},{"x":1840,"y":2760,"k":0.879},{"x":1955,"y":2760,"k":0.874},{"x":2070,"y":2760,"k":0.871},{"x":2185,"y":2760,"k":0.868},{"x":2300,"y":2760,"k":0.867},{"x":2415,"y":2760,"k":0.867},{"x":2530,"y":2760,"k":0.868},{"x":2645,"y":2760,"k":0.871},{"x":2760,"y":2760,"k":0.874},{"x":2875,"y":2760,"k":0.879},{"x":2990,"y":2760,"k":0.885},{"x":3105,"y":2760,"k":0.892},{"x":3220,"y":2760,"k":0.901},{"x":3335,"y":2760,"k":0.911},{"x":3450,"y":2760,"k":0.922},{"x":3565,"y":2760,"k":0.935},{"x":3680,"y":2760,"k":0.949},{"x":3795,"y":2760,"k":0.966},{"x":3910,"y":2760,"k":0.984},{"x":4025,"y":2760,"k":1.005},{"x":4140,"y":2760,"k":1.028},{"x":4255,"y":2760,"k":1.055},{"x":4370,"y":2760,"k":1.086},{"x":4485,"y":2760,"k":1.121},{"x":4600,"y":2760,"k":1.163},{"x":4715,"y":2760,"k":1.212},
{"x":0,"y":2875,"k":1.242},{"x":115,"y":2875,"k":1.190},{"x":230,"y":2875,"k":1.145},{"x":345,"y":2875,"k":1.107},{"x":460,"y":2875,"k":1.075},{"x":575,"y":2875,"k":1.047},{"x":690,"y":2875,"k":1.022},{"x":805,"y":2875,"k":1.000},{"x":920,"y":2875,"k":0.982},{"x":1035,"y":2875,"k":0.965},{"x":1150,"y":2875,"k":0.949},{"x":1265,"y":2875,"k":0.936},{"x":1380,"y":2875,"k":0.925},{"x":1495,"y":2875,"k":0.915},{"x":1610,"y":2875,"k":0.906},{"x":1725,"y":2875,"k":0.898},{"x":1840,"y":2875,"k":0.892},{"x":1955,"y":2875,"k":0.887},{"x":2070,"y":2875,"k":0.884},{"x":2185,"y":2875,"k":0.881},{"x":2300,"y":2875,"k":0.880},{"x":2415,"y":2875,"k":0.880},{"x":2530,"y":2875,"k":0.881},{"x":2645,"y":2875,"k":0.884},{"x":2760,"y":2875,"k":0.887},{"x":2875,"y":2875,"k":0.892},{"x":2990,"y":2875,"k":0.898},{"x":3105,"y":2875,"k":0.906},{"x":3220,"y":2875,"k":0.915},{"x":3335,"y":2875,"k":0.925},{"x":3450,"y":2875,"k":0.936},{"x":3565,"y":2875,"k":0.949},{"x":3680,"y":2875,"k":0.965},{"x":3795,"y":2875,"k":0.982},{"x":3910,"y":2875,"k":1.000},{"x":4025,"y":2875,"k":1.022},{"x":4140,"y":2875,"k":1.047},{"x":4255,"y":2875,"k":1.075},{"x":4370,"y":2875,"k":1.107},{"x":4485,"y":2875,"k":1.145},{"x":4600,"y":2875,"k":1.190},{"x":4715,"y":2875,"k":1.242},
{"x":0,"y":2990,"k":1.277},{"x":115,"y":2990,"k":1.220},{"x":230,"y":2990,"k":1.173},{"x":345,"y":2990,"k":1.132},{"x":460,"y":2990,"k":1.097},{"x":575,"y":2990,"k":1.067},{"x":690,"y":2990,"k":1.041},{"x":805,"y":2990,"k":1.018},{"x":920,"y":2990,"k":0.999},{"x":1035,"y":2990,"k":0.982},{"x":1150,"y":2990,"k":0.966},{"x":1265,"y":2990,"k":0.952},{"x":1380,"y":2990,"k":0.941},{"x":1495,"y":2990,"k":0.930},{"x":1610,"y":2990,"k":0.921},{"x":1725,"y":2990,"k":0.914},{"x":1840,"y":2990,"k":0.907},{"x":1955,"y":2990,"k":0.902},{"x":2070,"y":2990,"k":0.898},{"x":2185,"y":2990,"k":0.896},{"x":2300,"y":2990,"k":0.895},{"x":2415,"y":2990,"k":0.895},{"x":2530,"y":2990,"k":0.896},{"x":2645,"y":2990,"k":0.898},{"x":2760,"y":2990,"k":0.902},{"x":2875,"y":2990,"k":0.907},{"x":2990,"y":2990,"k":0.914},{"x":3105,"y":2990,"k":0.921},{"x":3220,"y":2990,"k":0.930},{"x":3335,"y":2990,"k":0.941},{"x":3450,"y":2990,"k":0.952},{"x":3565,"y":2990,"k":0.966},{"x":3680,"y":2990,"k":0.982},{"x":3795,"y":2990,"k":0.999},{"x":3910,"y":2990,"k":1.018},{"x":4025,"y":2990,"k":1.041},{"x":4140,"y":2990,"k":1.067},{"x":4255,"y":2990,"k":1.097},{"x":4370,"y":2990,"k":1.132},{"x":4485,"y":2990,"k":1.173},{"x":4600,"y":2990,"k":1.220},{"x":4715,"y":2990,"k":1.277},
{"x":0,"y":3105,"k":1.318},{"x":115,"y":3105,"k":1.256},{"x":230,"y":3105,"k":1.204},{"x":345,"y":3105,"k":1.161},{"x":460,"y":3105,"k":1.123},{"x":575,"y":3105,"k":1.091},{"x":690,"y":3105,"k":1.064},{"x":805,"y":3105,"k":1.040},{"x":920,"y":3105,"k":1.018},{"x":1035,"y":3105,"k":1.000},{"x":1150,"y":3105,"k":0.984},{"x":1265,"y":3105,"k":0.970},{"x":1380,"y":3105,"k":0.958},{"x":1495,"y":3105,"k":0.947},{"x":1610,"y":3105,"k":0.938},{"x":1725,"y":3105,"k":0.930},{"x":1840,"y":3105,"k":0.923},{"x":1955,"y":3105,"k":0.918},{"x":2070,"y":3105,"k":0.915},{"x":2185,"y":3105,"k":0.912},{"x":2300,"y":3105,"k":0.911},{"x":2415,"y":3105,"k":0.911},{"x":2530,"y":3105,"k":0.912},{"x":2645,"y":3105,"k":0.915},{"x":2760,"y":3105,"k":0.918},{"x":2875,"y":3105,"k":0.923},{"x":2990,"y":3105,"k":0.930},{"x":3105,"y":3105,"k":0.938},{"x":3220,"y":3105,"k":0.947},{"x":3335,"y":3105,"k":0.958},{"x":3450,"y":3105,"k":0.970},{"x":3565,"y":3105,"k":0.984},{"x":3680,"y":3105,"k":1.000},{"x":3795,"y":3105,"k":1.018},{"x":3910,"y":3105,"k":1.040},{"x":4025,"y":3105,"k":1.064},{"x":4140,"y":3105,"k":1.091},{"x":4255,"y":3105,"k":1.123},{"x":4370,"y":3105,"k":1.161},{"x":4485,"y":3105,"k":1.204},{"x":4600,"y":3105,"k":1.256},{"x":4715,"y":3105,"k":1.318}
]},
"mark": {"type": "rect", "clip": true},
"encoding": {
  "x": {"field": "x", "type": "quantitative", "bin": {"binned": true, "step": 125}, "scale": {"domain": [0, 4830], "nice": false, "zero": false}, "axis": {"title": "x-pixel", "values": [0, 1000, 2000, 3000, 4000], "format": "d", "labelPadding": 6, "titlePadding": 4}},
  "y": {"field": "y", "type": "quantitative", "bin": {"binned": true, "step": 125}, "scale": {"domain": [0, 3220], "reverse": true, "nice": false, "zero": false}, "axis": {"title": "y-pixel", "values": [0, 1000, 2000, 3000], "format": "d", "labelPadding": 11, "titlePadding": 7}},
  "color": {"field": "k", "type": "quantitative", "scale": {"scheme": "viridis", "reverse": true, "domain": [0.798, 1.386]},
    "legend": {"type": "gradient", "orient": "none", "legendX": 588, "legendY": -40, "direction": "vertical", "gradientLength": 442, "gradientThickness": 23, "gradientStrokeColor": "black", "gradientStrokeWidth": 1, "values": [0.8, 0.9, 1.0, 1.1, 1.2, 1.3], "format": ".1f", "labelFontSize": 32, "labelFont": "DejaVu Sans", "labelColor": "black", "labelOffset": 12, "labelOverlap": false, "padding": 0, "title": null}}
}
},
{
"data": {"values": [{"note": "1e−8"}]},
"mark": {"type": "text", "align": "center", "baseline": "middle", "fontSize": 18, "font": "DejaVu Sans", "color": "black"},
"encoding": {
  "x": {"datum": 5038, "type": "quantitative", "axis": {"orient": "top", "title": "(W m⁻² nm ⁻¹ sr⁻¹ (DN/s)⁻¹)", "titleFontSize": 33, "labels": false, "ticks": false, "domain": false, "grid": false, "titleAnchor": "end", "titlePadding": 3}},
  "y": {"datum": -515, "type": "quantitative", "axis": {"orient": "right", "title": "Calibration factor 𝑘𝑐", "labels": false, "ticks": false, "domain": false, "grid": false, "titleAngle": -90, "titleBaseline": "top", "titlePadding": 124}},
  "text": {"field": "note", "type": "nominal"}
}
}
]
}
